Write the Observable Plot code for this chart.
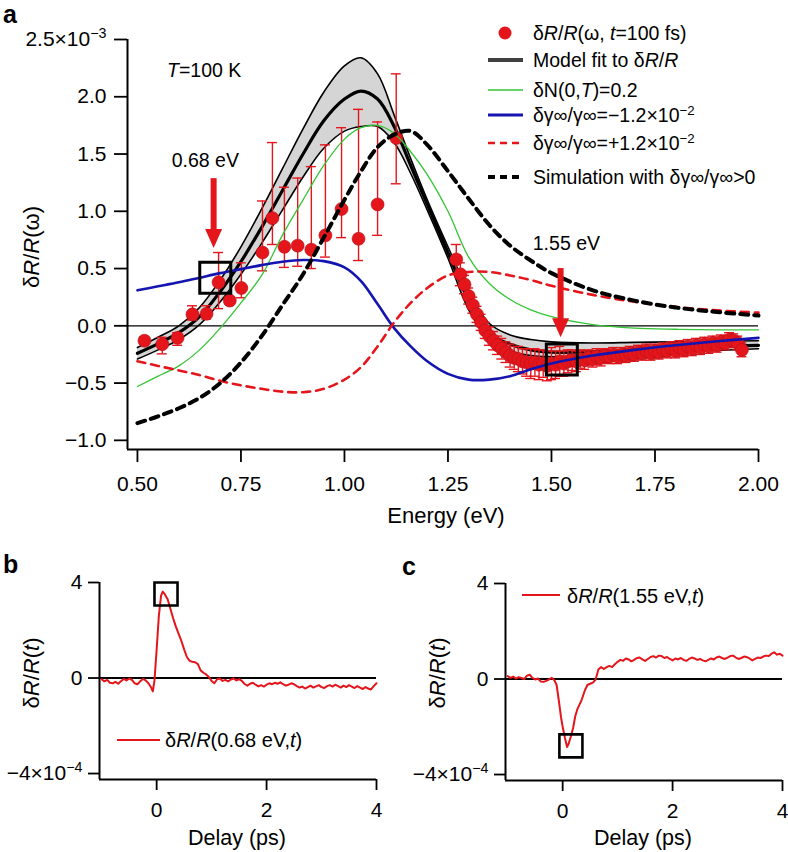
<!DOCTYPE html>
<html><head><meta charset="utf-8">
<script src="https://cdn.jsdelivr.net/npm/d3@7"></script>
<script src="https://cdn.jsdelivr.net/npm/@observablehq/plot@0.6"></script>
<style>
body{margin:0;background:#fff;}
#fig{position:relative;width:788px;height:852px;font-family:"Liberation Sans",Arial,Helvetica,sans-serif;color:#000;overflow:hidden;background:#fff}
.abs{position:absolute;white-space:nowrap;line-height:1.15}
.abs sup{font-size:0.68em;vertical-align:0.5em;line-height:0}
</style></head><body><div id="fig"></div>
<script>
const FONT = '"Liberation Sans", Arial, Helvetica, sans-serif';
const RED = "#e4161c";
const BLUE = "#1414b0";
const GREEN = "#35c435";

// ---------- Panel a: model curves (eV grid, values x1e-3) ----------
const energyGrid   = [0.50,0.55,0.60,0.65,0.70,0.75,0.80,0.85,0.90,0.95,1.00,1.04,1.08,1.12,1.16,1.20,1.25,1.30,1.35,1.40,1.45,1.50,1.60,1.70,1.80,1.90,2.00];
const fitMid       = [-0.24,-0.155,-0.06,0.08,0.30,0.56,0.86,1.18,1.50,1.79,1.98,2.05,1.98,1.74,1.40,1.06,0.64,0.22,-0.07,-0.16,-0.21,-0.23,-0.225,-0.21,-0.195,-0.18,-0.17];
const fitHi        = [-0.19,-0.10,0.00,0.16,0.40,0.69,1.02,1.37,1.72,2.04,2.27,2.34,2.20,1.84,1.46,1.10,0.69,0.30,0.02,-0.08,-0.12,-0.14,-0.15,-0.145,-0.14,-0.135,-0.13];
const fitLo        = [-0.29,-0.21,-0.12,0.01,0.21,0.45,0.72,1.01,1.30,1.55,1.70,1.74,1.74,1.60,1.33,1.01,0.59,0.14,-0.12,-0.22,-0.26,-0.27,-0.27,-0.25,-0.23,-0.215,-0.20];
const curveDeltaN  = [-0.53,-0.44,-0.35,-0.21,-0.02,0.20,0.44,0.79,1.10,1.40,1.63,1.73,1.75,1.68,1.52,1.32,1.00,0.60,0.37,0.23,0.14,0.08,0.01,-0.02,-0.03,-0.035,-0.035];
const curveGammaNeg= [0.31,0.345,0.38,0.42,0.46,0.495,0.53,0.56,0.575,0.565,0.51,0.39,0.19,-0.02,-0.18,-0.31,-0.42,-0.47,-0.47,-0.44,-0.38,-0.33,-0.26,-0.21,-0.17,-0.135,-0.105];
const curveGammaPos= [-0.31,-0.35,-0.39,-0.43,-0.48,-0.52,-0.55,-0.575,-0.58,-0.55,-0.47,-0.36,-0.18,0.03,0.20,0.33,0.44,0.47,0.47,0.44,0.40,0.35,0.27,0.21,0.165,0.135,0.115];
const curveSim     = [-0.85,-0.79,-0.72,-0.63,-0.50,-0.32,-0.09,0.18,0.45,0.77,1.10,1.35,1.56,1.67,1.70,1.58,1.35,1.11,0.88,0.70,0.57,0.46,0.31,0.22,0.16,0.12,0.09];

// ---------- Panel a: measured points ----------
const sparseE  = [0.517,0.560,0.597,0.633,0.667,0.696,0.723,0.751,0.802,0.826,0.855,0.887,0.920,0.954,0.993,1.034,1.080,1.125];
const sparseV  = [-0.13,-0.16,-0.105,0.10,0.105,0.38,0.22,0.33,0.64,0.94,0.69,0.70,0.665,0.79,1.02,0.76,1.06,1.64];
const sparseLo = [-0.16,-0.245,-0.17,0.05,0.06,0.15,0.19,0.245,0.48,0.71,0.51,0.52,0.50,0.60,0.77,0.57,0.79,1.24];
const sparseHi = [-0.10,-0.10,-0.06,0.175,0.175,0.64,0.25,0.55,1.09,1.60,1.21,1.29,1.39,1.58,1.73,1.89,1.78,2.20];

const denseE = [1.27,1.28,1.29,1.30,1.31,1.32,1.33,1.34,1.35,1.36,1.37,1.38,1.39,1.40,1.41,1.42,1.43,1.44,1.45,1.46,1.47,1.48,1.49,1.50,1.51,1.52,1.53,1.54,1.55,1.56,1.57,1.58,1.59,1.60,1.61,1.62,1.63,1.64,1.65,1.66,1.67,1.68,1.69,1.70,1.71,1.72,1.73,1.74,1.75,1.76,1.77,1.78,1.79,1.80,1.81,1.82,1.83,1.84,1.85,1.86,1.87,1.88,1.89,1.90,1.91,1.92,1.93,1.94,1.95,1.96];
const denseV = [0.58,0.45,0.36,0.26,0.18,0.10,0.03,-0.04,-0.09,-0.13,-0.17,-0.20,-0.23,-0.26,-0.28,-0.29,-0.31,-0.32,-0.33,-0.32,-0.34,-0.33,-0.35,-0.33,-0.34,-0.31,-0.33,-0.31,-0.30,-0.31,-0.29,-0.30,-0.28,-0.29,-0.27,-0.28,-0.26,-0.27,-0.25,-0.27,-0.25,-0.26,-0.24,-0.25,-0.23,-0.24,-0.22,-0.24,-0.22,-0.23,-0.21,-0.22,-0.20,-0.22,-0.19,-0.21,-0.18,-0.20,-0.17,-0.19,-0.16,-0.18,-0.15,-0.17,-0.14,-0.15,-0.12,-0.13,-0.15,-0.21];
const denseErr = [0.13,0.10,0.08,0.07,0.07,0.07,0.07,0.07,0.08,0.08,0.08,0.09,0.09,0.10,0.10,0.11,0.11,0.12,0.13,0.12,0.13,0.12,0.13,0.14,0.12,0.13,0.11,0.10,0.09,0.09,0.08,0.08,0.07,0.07,0.07,0.07,0.06,0.06,0.06,0.06,0.06,0.06,0.06,0.06,0.06,0.06,0.06,0.06,0.06,0.06,0.06,0.06,0.06,0.06,0.06,0.06,0.06,0.06,0.06,0.06,0.06,0.06,0.06,0.06,0.06,0.06,0.06,0.06,0.06,0.06];

const xTicksA = [0.5,0.75,1.0,1.25,1.5,1.75,2.0];
const yTicksA = [-1.0,-0.5,0.0,0.5,1.0,1.5,2.0,2.5];

// annotations (data coordinates)
const boxE = [0.688, 1.525];
const boxV = [0.42, -0.295];
const arrowE = [0.684, 1.522];
const arrowTop = [1.285, 0.50];
const arrowTip = [0.68, -0.10];
const noteText = ["0.68 eV", "1.55 eV"];
const noteE = [0.664, 1.536];
const noteV = [1.44, 0.72];

// ---------- Panels b, c: time traces (values x1e-4) ----------
const delayB = [-1.00,-0.95,-0.90,-0.85,-0.80,-0.75,-0.70,-0.65,-0.60,-0.55,-0.50,-0.45,-0.40,-0.35,-0.30,-0.25,-0.20,-0.15,-0.10,-0.07,-0.04,0.00,0.04,0.08,0.11,0.15,0.20,0.25,0.30,0.35,0.40,0.45,0.50,0.55,0.60,0.65,0.70,0.75,0.80,0.85,0.90,0.95,1.00,1.05,1.10,1.15,1.20,1.25,1.30,1.35,1.40,1.45,1.50,1.55,1.60,1.65,1.70,1.75,1.80,1.85,1.90,1.95,2.00,2.05,2.10,2.15,2.20,2.25,2.30,2.35,2.40,2.45,2.50,2.55,2.60,2.65,2.70,2.75,2.80,2.85,2.90,2.95,3.00,3.05,3.10,3.15,3.20,3.25,3.30,3.35,3.40,3.45,3.50,3.55,3.60,3.65,3.70,3.75,3.80,3.85,3.90,3.95,4.00];
const signalB = [-0.05,-0.14,-0.08,-0.20,-0.22,-0.16,-0.24,-0.14,-0.04,-0.10,-0.02,-0.08,-0.22,-0.26,-0.14,-0.04,-0.10,-0.22,-0.40,-0.56,-0.10,1.20,2.60,3.45,3.62,3.50,3.30,2.90,2.50,2.15,1.85,1.55,1.20,0.88,0.72,0.68,0.66,0.58,0.32,0.22,0.15,0.04,-0.12,-0.22,-0.05,-0.02,-0.12,-0.08,-0.14,-0.06,-0.02,-0.10,-0.05,-0.12,-0.25,-0.32,-0.24,-0.20,-0.28,-0.35,-0.30,-0.36,-0.28,-0.22,-0.26,-0.20,-0.24,-0.18,-0.26,-0.32,-0.28,-0.22,-0.26,-0.34,-0.40,-0.36,-0.44,-0.38,-0.32,-0.40,-0.35,-0.30,-0.38,-0.42,-0.34,-0.30,-0.36,-0.28,-0.34,-0.40,-0.32,-0.38,-0.30,-0.36,-0.42,-0.34,-0.40,-0.46,-0.38,-0.44,-0.48,-0.34,-0.22];

const delayC = [-1.00,-0.95,-0.90,-0.85,-0.80,-0.75,-0.70,-0.65,-0.60,-0.55,-0.50,-0.45,-0.40,-0.35,-0.30,-0.25,-0.20,-0.15,-0.11,-0.07,-0.03,0.00,0.04,0.08,0.11,0.15,0.19,0.23,0.27,0.31,0.35,0.40,0.45,0.50,0.55,0.60,0.65,0.70,0.75,0.80,0.85,0.90,0.95,1.00,1.05,1.10,1.15,1.20,1.25,1.30,1.35,1.40,1.45,1.50,1.55,1.60,1.65,1.70,1.75,1.80,1.85,1.90,1.95,2.00,2.05,2.10,2.15,2.20,2.25,2.30,2.35,2.40,2.45,2.50,2.55,2.60,2.65,2.70,2.75,2.80,2.85,2.90,2.95,3.00,3.05,3.10,3.15,3.20,3.25,3.30,3.35,3.40,3.45,3.50,3.55,3.60,3.65,3.70,3.75,3.80,3.85,3.90,3.95,4.00];
const signalC = [0.12,0.05,0.10,0.02,0.08,0.04,0.00,0.14,0.18,0.05,-0.02,0.02,-0.10,-0.12,-0.08,-0.02,0.05,-0.05,-0.25,-0.90,-1.60,-2.00,-2.45,-2.85,-2.70,-2.40,-2.05,-1.55,-1.25,-1.05,-0.85,-0.50,-0.25,-0.20,-0.15,-0.02,0.40,0.50,0.42,0.50,0.55,0.50,0.62,0.72,0.80,0.76,0.86,0.82,0.74,0.80,0.88,0.90,0.82,0.76,0.84,0.92,0.96,0.90,0.98,0.96,0.88,0.92,0.84,0.78,0.86,0.82,0.88,0.80,0.76,0.84,0.90,0.86,0.80,0.84,0.78,0.74,0.80,0.86,0.82,0.90,0.94,0.88,0.84,0.90,0.96,0.98,0.90,0.84,0.88,0.94,0.92,0.86,0.78,0.84,0.90,0.88,0.94,0.98,0.96,1.06,1.12,1.02,1.06,0.98];

const boxB = {t: 0.17, v: 3.52};
const boxC = {t: 0.15, v: -2.80};
const xTicksBC = [0, 2, 4];
const yTicksBC = [-4, 0, 4];

// ---------- tables ----------
const curves = energyGrid.map((e, i) => ({e, mid: fitMid[i], hi: fitHi[i], lo: fitLo[i], dn: curveDeltaN[i], gn: curveGammaNeg[i], gp: curveGammaPos[i], sim: curveSim[i]}));
const sparse = sparseE.map((e, i) => ({e, v: sparseV[i], lo: sparseLo[i], hi: sparseHi[i]}));
const dense = denseE.map((e, i) => ({e, v: denseV[i], lo: denseV[i] - denseErr[i], hi: denseV[i] + denseErr[i]}));
const points = sparse.concat(dense);
const boxes = boxE.map((e, i) => ({e, v: boxV[i]}));
const arrows = arrowE.map((e, i) => ({e, top: arrowTop[i], tip: arrowTip[i]}));
const notes = noteText.map((t, i) => ({t, e: noteE[i], v: noteV[i]}));

const CAP = 0.012;
const curve = "catmull-rom";
const arrowHead = {draw(ctx) { ctx.moveTo(0, 0); ctx.lineTo(-8.5, -19); ctx.lineTo(8.5, -19); ctx.closePath(); }};

function supFix(svg) {
  svg.querySelectorAll("text").forEach(t => {
    const s = t.textContent;
    if (s.includes("^")) {
      const [base, exp] = s.split("^");
      while (t.firstChild) t.removeChild(t.firstChild);
      t.appendChild(document.createTextNode(base));
      const ts = document.createElementNS("http://www.w3.org/2000/svg", "tspan");
      ts.setAttribute("dy", "-0.55em");
      ts.setAttribute("font-size", "0.68em");
      ts.textContent = exp;
      t.appendChild(ts);
    }
  });
}

const fig = document.getElementById("fig");
function put(node, left, top) {
  node.style.position = "absolute";
  node.style.left = left + "px";
  node.style.top = top + "px";
  fig.appendChild(node);
}
function label(html, x, y, opt = {}) {
  const {size = 20, anchor = "start", weight = "normal", rotate = false} = opt;
  const d = document.createElement("div");
  d.className = "abs";
  d.innerHTML = html;
  d.style.fontSize = size + "px";
  d.style.fontWeight = weight;
  d.style.left = x + "px";
  d.style.top = y + "px";
  const tx = anchor === "middle" ? "-50%" : anchor === "end" ? "-100%" : "0";
  d.style.transform = `translate(${tx},-50%)` + (rotate ? " rotate(-90deg)" : "");
  fig.appendChild(d);
}

// ---------- Panel a ----------
const X0 = 0.476, Y0 = -1.08;
const fmtA = d => d === 2.5 ? "2.5×10^−3" : d3.format(".1f")(d);
const plotA = Plot.plot({
  width: 788, height: 535,
  marginLeft: 127, marginRight: 30, marginTop: 39, marginBottom: 86,
  style: {fontSize: "21px", fontFamily: FONT, background: "transparent", color: "#000"},
  x: {domain: [X0, 2.0]},
  y: {domain: [Y0, 2.5]},
  marks: [
    Plot.axisX({ticks: xTicksA, tickFormat: d3.format(".2f"), tickSize: 13, tickPadding: 14, strokeWidth: 1.8, label: null}),
    Plot.axisY({ticks: yTicksA, tickFormat: fmtA, tickSize: 13, tickPadding: 8, strokeWidth: 1.8, label: null}),
    Plot.ruleX([X0], {strokeWidth: 2}),
    Plot.ruleY([Y0], {strokeWidth: 2}),
    Plot.areaY(curves, {x: "e", y1: "lo", y2: "hi", fill: "#d5d5d5", curve}),
    Plot.ruleY([0], {stroke: "#000", strokeWidth: 1.3}),
    Plot.lineY(curves, {x: "e", y: "hi", stroke: "#000", strokeWidth: 1.6, curve}),
    Plot.lineY(curves, {x: "e", y: "lo", stroke: "#000", strokeWidth: 1.6, curve}),
    Plot.lineY(curves, {x: "e", y: "mid", stroke: "#000", strokeWidth: 3.2, curve}),
    Plot.ruleX(points, {x: "e", y1: "lo", y2: "hi", stroke: RED, strokeWidth: 1.4}),
    Plot.ruleY(points, {x1: d => d.e - CAP, x2: d => d.e + CAP, y: "hi", stroke: RED, strokeWidth: 1.4}),
    Plot.ruleY(points, {x1: d => d.e - CAP, x2: d => d.e + CAP, y: "lo", stroke: RED, strokeWidth: 1.4}),
    Plot.dot(points, {x: "e", y: "v", r: 6.5, fill: RED, stroke: "#b3121a", strokeWidth: 0.6}),
    Plot.lineY(curves, {x: "e", y: "dn", stroke: GREEN, strokeWidth: 1.3, curve}),
    Plot.lineY(curves, {x: "e", y: "gn", stroke: BLUE, strokeWidth: 2.6, curve}),
    Plot.lineY(curves, {x: "e", y: "gp", stroke: RED, strokeWidth: 2.6, strokeDasharray: "8,6", curve}),
    Plot.lineY(curves, {x: "e", y: "sim", stroke: "#000", strokeWidth: 4, strokeDasharray: "8,6", curve}),
    Plot.dot(boxes, {x: "e", y: "v", symbol: "square", r: 17.5, fill: "none", stroke: "#000", strokeWidth: 3}),
    Plot.ruleX(arrows, {x: "e", y1: "top", y2: "tip", stroke: RED, strokeWidth: 6, insetBottom: 10}),
    Plot.dot(arrows, {x: "e", y: "tip", symbol: arrowHead, fill: RED, r: 5}),
    Plot.text(notes, {x: "e", y: "v", text: "t", fontSize: 19.5, fill: "#000"})
  ]
});
supFix(plotA);
put(plotA, 0, 0);

// ---------- Panels b, c ----------
function tracePlot(delay, signal, box) {
  const data = delay.map((t, i) => ({t, v: signal[i]}));
  const XB = -1.04, YB = -4.25;
  const fmt = d => d === -4 ? "−4×10^−4" : String(d);
  const p = Plot.plot({
    width: 394, height: 296,
    marginLeft: 99, marginRight: 18, marginTop: 26, marginBottom: 73,
    style: {fontSize: "21px", fontFamily: FONT, background: "transparent", color: "#000"},
    x: {domain: [XB, 4]},
    y: {domain: [YB, 4]},
    marks: [
      Plot.axisX({ticks: xTicksBC, tickFormat: d => String(d), tickSize: 11, tickPadding: 12, strokeWidth: 1.8, label: null}),
      Plot.axisY({ticks: yTicksBC, tickFormat: fmt, tickSize: 11, tickPadding: 6, strokeWidth: 1.8, label: null}),
      Plot.ruleX([XB], {strokeWidth: 2}),
      Plot.ruleY([YB], {strokeWidth: 2}),
      Plot.ruleY([0], {stroke: "#000", strokeWidth: 2}),
      Plot.line(data, {x: "t", y: "v", stroke: RED, strokeWidth: 2}),
      Plot.dot([box], {x: "t", y: "v", symbol: "square", r: 13, fill: "none", stroke: "#000", strokeWidth: 2.6})
    ]
  });
  supFix(p);
  return p;
}
put(tracePlot(delayB, signalB, boxB), 0, 556);
put(tracePlot(delayC, signalC, boxC), 406, 557);

// ---------- text ----------
label("a", 3, 14, {size: 25, weight: "bold"});
label("b", 3, 564, {size: 25, weight: "bold"});
label("c", 402, 566, {size: 25, weight: "bold"});
label("<i>T</i>=100 K", 167, 70, {size: 19.5});
label("δ<i>R</i>/<i>R</i>(ω)", 32, 247, {size: 22, anchor: "middle", rotate: true});
label("Energy (eV)", 446, 516, {size: 22, anchor: "middle"});
label("δ<i>R</i>/<i>R</i>(<i>t</i>)", 32, 673, {size: 22, anchor: "middle", rotate: true});
label("Delay (ps)", 237, 838, {size: 21.5, anchor: "middle"});
label("δ<i>R</i>/<i>R</i>(<i>t</i>)", 438, 673, {size: 22, anchor: "middle", rotate: true});
label("Delay (ps)", 643, 838, {size: 21.5, anchor: "middle"});

// legend panel a
const legendRows = [
  {y: 33, html: "δ<i>R</i>/<i>R</i>(ω, <i>t</i>=100 fs)", kind: "dot", color: RED},
  {y: 60, html: "Model fit to δ<i>R</i>/<i>R</i>", kind: "line", color: "#404040", w: 4},
  {y: 90, html: "δN(0,<i>T</i>)=0.2", kind: "line", color: GREEN, w: 1.5},
  {y: 115, html: "δγ∞/γ∞=−1.2×10<sup>−2</sup>", kind: "line", color: BLUE, w: 2.8},
  {y: 143, html: "δγ∞/γ∞=+1.2×10<sup>−2</sup>", kind: "line", color: RED, w: 2.6, dash: "7,5"},
  {y: 177, html: "Simulation with δγ∞/γ∞&gt;0", kind: "line", color: "#000", w: 4, dash: "7,5"}
];
const NS = "http://www.w3.org/2000/svg";
const lsvg = document.createElementNS(NS, "svg");
lsvg.setAttribute("width", 788); lsvg.setAttribute("height", 852);
lsvg.style.position = "absolute"; lsvg.style.left = "0"; lsvg.style.top = "0"; lsvg.style.pointerEvents = "none";
function sw(x1, x2, y, color, w, dash) {
  const l = document.createElementNS(NS, "line");
  l.setAttribute("x1", x1); l.setAttribute("x2", x2); l.setAttribute("y1", y); l.setAttribute("y2", y);
  l.setAttribute("stroke", color); l.setAttribute("stroke-width", w);
  if (dash) l.setAttribute("stroke-dasharray", dash);
  lsvg.appendChild(l);
}
legendRows.forEach(r => {
  if (r.kind === "dot") {
    const c = document.createElementNS(NS, "circle");
    c.setAttribute("cx", 505); c.setAttribute("cy", r.y); c.setAttribute("r", 6.5); c.setAttribute("fill", r.color);
    lsvg.appendChild(c);
  } else sw(488, 523, r.y, r.color, r.w, r.dash);
  label(r.html, 533, r.y, {size: 19.5});
});
sw(117, 160, 740, RED, 2);
sw(522, 560, 595, RED, 2);
fig.appendChild(lsvg);
label("δ<i>R</i>/<i>R</i>(0.68 eV,<i>t</i>)", 165, 740, {size: 20});
label("δ<i>R</i>/<i>R</i>(1.55 eV,<i>t</i>)", 567, 596, {size: 20});
</script>
</body></html>
